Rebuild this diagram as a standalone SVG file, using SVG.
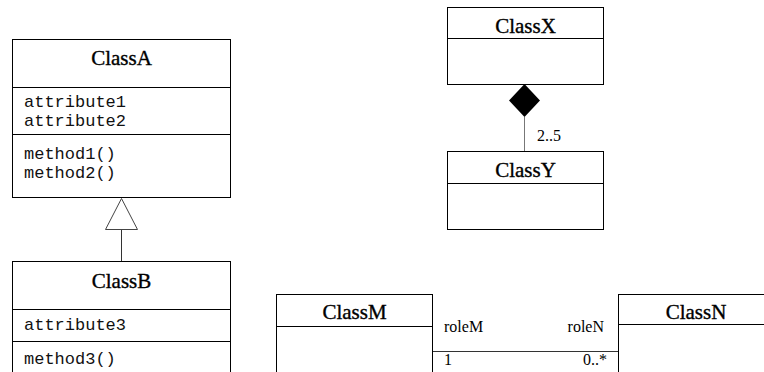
<svg xmlns="http://www.w3.org/2000/svg" width="764" height="372" viewBox="0 0 764 372">
<style>
.box{fill:#fff;stroke:#000;stroke-width:1}
.div{stroke:#000;stroke-width:1}
.title{font-family:"Liberation Serif","Times New Roman",serif;font-size:21px;font-weight:normal;text-anchor:middle;fill:#000;stroke:#000;stroke-width:0.35}
.mono{font-family:"Liberation Mono","Courier New",monospace;font-size:17px;fill:#111}
.lbl{font-family:"Liberation Serif","Times New Roman",serif;font-size:16px;fill:#000}
.conn{stroke:#333;stroke-width:1;fill:none}
</style>
<rect width="764" height="372" fill="#fff"/>
<g id="connectors">
  <line class="conn" x1="121.5" y1="229" x2="121.5" y2="261"/>
  <polygon points="121.5,198.5 105.5,229.5 137.5,229.5" fill="#fff" stroke="#444" stroke-width="1"/>
  <line x1="524.5" y1="117" x2="524.5" y2="151" stroke="#777" stroke-width="1"/>
  <polygon points="524.5,84 540,100.5 524.5,117 509,100.5" fill="#000"/>
  <text class="lbl" x="537" y="141">2..5</text>
  <line class="conn" x1="432.5" y1="351.5" x2="618.5" y2="351.5"/>
  <text class="lbl" x="444" y="332">roleM</text>
  <text class="lbl" x="604" y="332" text-anchor="end">roleN</text>
  <text class="lbl" x="444" y="365">1</text>
  <text class="lbl" x="607" y="365" text-anchor="end">0..*</text>
</g>
<g id="ClassA">
  <rect class="box" x="12.5" y="39.5" width="218" height="158"/>
  <line class="div" x1="12.5" y1="87.5" x2="230.5" y2="87.5"/>
  <line class="div" x1="12.5" y1="134.5" x2="230.5" y2="134.5"/>
  <text class="title" x="121.5" y="65">ClassA</text>
  <text class="mono" x="24" y="107">attribute1</text>
  <text class="mono" x="24" y="126">attribute2</text>
  <text class="mono" x="24" y="159">method1()</text>
  <text class="mono" x="24" y="178">method2()</text>
</g>
<g id="ClassB">
  <rect class="box" x="12.5" y="261.5" width="218" height="130"/>
  <line class="div" x1="12.5" y1="309.5" x2="230.5" y2="309.5"/>
  <line class="div" x1="12.5" y1="341.5" x2="230.5" y2="341.5"/>
  <text class="title" x="121.5" y="288">ClassB</text>
  <text class="mono" x="24" y="330">attribute3</text>
  <text class="mono" x="24" y="364">method3()</text>
</g>
<g id="ClassX">
  <rect class="box" x="447.5" y="7.5" width="156" height="77"/>
  <line class="div" x1="447.5" y1="38.5" x2="603.5" y2="38.5"/>
  <text class="title" x="525.5" y="32.5">ClassX</text>
</g>
<g id="ClassY">
  <rect class="box" x="447.5" y="151.5" width="156" height="78"/>
  <line class="div" x1="447.5" y1="183.5" x2="603.5" y2="183.5"/>
  <text class="title" x="525.5" y="176.5">ClassY</text>
</g>
<g id="ClassM">
  <rect class="box" x="276.5" y="294.5" width="156" height="100"/>
  <line class="div" x1="276.5" y1="326.5" x2="432.5" y2="326.5"/>
  <text class="title" x="354.5" y="319">ClassM</text>
</g>
<g id="ClassN">
  <rect class="box" x="618.5" y="294.5" width="156" height="100"/>
  <line class="div" x1="618.5" y1="324.5" x2="774.5" y2="324.5"/>
  <text class="title" x="696" y="319">ClassN</text>
</g>
</svg>
